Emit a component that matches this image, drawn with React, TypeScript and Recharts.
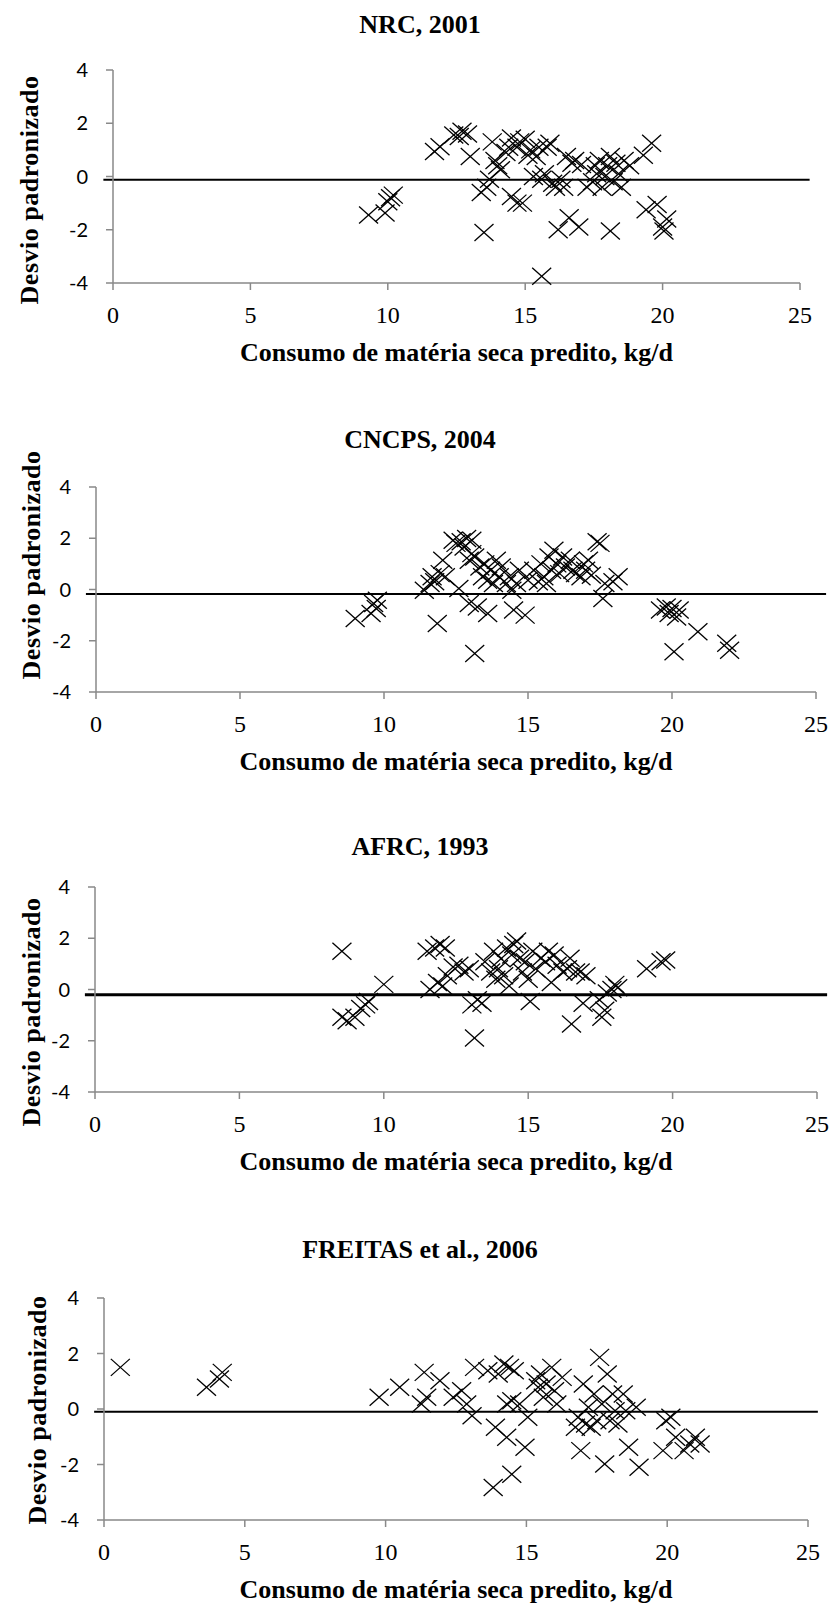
import React from "react";
import { ScatterChart, Scatter, XAxis, YAxis, ReferenceLine } from "recharts";

// Desvio padronizado x consumo de matéria seca predito (kg/d)
const nrcPoints: [number, number][] = [
  [9.3, -1.45], [9.9, -1.37], [10.0, -0.95], [10.1, -0.8], [10.2, -0.7],
  [11.7, 0.94], [11.9, 1.12], [12.4, 1.56], [12.6, 1.5], [12.7, 1.7], [12.9, 1.6],
  [13.0, 0.75], [13.4, -0.6], [13.5, -2.1], [13.6, -0.4], [13.7, -0.1], [13.8, 1.3],
  [13.9, 0.6], [14.0, 0.4], [14.1, 0.25], [14.3, 0.9], [14.4, 1.1], [14.5, -0.75],
  [14.5, 1.45], [14.7, 1.1], [14.7, -1.0], [14.8, 1.3], [14.9, -1.0], [15.0, 1.4],
  [15.1, 0.8], [15.2, 1.0], [15.3, 0.0], [15.4, 0.75], [15.5, 1.1], [15.6, -3.75],
  [15.6, -0.1], [15.7, 0.1], [15.8, 1.1], [15.9, 1.25], [16.0, -0.25], [16.1, -0.4],
  [16.2, -2.0], [16.3, -0.1], [16.4, -0.4], [16.5, 0.75], [16.6, -1.55], [16.7, 0.5],
  [16.8, 0.6], [16.95, -1.9], [17.05, 0.45], [17.25, -0.4], [17.45, -0.2], [17.55, 0.4],
  [17.6, 0.1], [17.7, 0.6], [17.8, -0.4], [17.9, 0.0], [18.0, 0.4], [18.1, -2.05],
  [18.1, 0.75], [18.2, -0.2], [18.3, 0.5], [18.4, 0.1], [18.5, -0.4], [18.6, 0.6],
  [18.8, 0.4], [19.3, 0.8], [19.4, -1.25], [19.6, 1.25], [19.8, -1.05], [20.0, -1.9],
  [20.05, -2.05], [20.15, -1.6],
];

const cncpsPoints: [number, number][] = [
  [9.0, -1.13], [9.55, -0.94], [9.64, -0.55], [9.73, -0.74], [9.77, -0.42],
  [11.4, -0.03], [11.6, 0.23], [11.67, 0.5], [11.76, 0.3], [11.85, -1.33], [11.95, 0.62],
  [12.04, 1.14], [12.13, 0.5], [12.4, 1.92], [12.5, 1.8], [12.6, 0.04], [12.68, 1.86],
  [12.78, 1.66], [12.87, 1.99], [12.96, 1.14], [12.96, -0.55], [13.05, 1.4], [13.05, 1.92],
  [13.15, -2.5], [13.15, 1.27], [13.24, -0.68], [13.33, 0.88], [13.42, 0.5], [13.5, 1.0],
  [13.6, -0.94], [13.6, 0.36], [13.7, 0.75], [13.8, 0.23], [13.9, 1.14], [14.0, 0.5],
  [14.07, 0.88], [14.25, 0.23], [14.35, 0.5], [14.44, -0.03], [14.5, -0.8], [14.6, 0.23],
  [14.7, 0.75], [14.9, -1.0], [15.0, 0.36], [15.2, 0.75], [15.36, 0.3], [15.45, 1.0],
  [15.55, 0.5], [15.64, 0.23], [15.73, 1.27], [15.82, 0.75], [15.9, 1.53], [16.0, 1.0],
  [16.1, 0.62], [16.2, 1.27], [16.3, 0.88], [16.47, 1.14], [16.56, 0.75], [16.65, 0.62],
  [16.84, 0.5], [16.93, 1.0], [17.0, 0.75], [17.1, 1.14], [17.2, 0.56], [17.4, 1.86],
  [17.5, 1.8], [17.6, -0.35], [17.67, 0.23], [17.95, 0.3], [18.13, 0.5],
  [19.6, -0.8], [19.8, -0.68], [19.9, -0.94], [20.0, -0.74], [20.07, -2.43], [20.16, -1.07],
  [20.25, -0.8], [20.9, -1.65], [21.9, -2.1], [22.0, -2.37],
];

const afrcPoints: [number, number][] = [
  [8.55, 1.49], [8.55, -1.08], [8.73, -1.22], [9.0, -1.08], [9.2, -0.74], [9.37, -0.6],
  [9.47, -0.47], [10.0, 0.2], [11.5, 1.49], [11.6, 0.0], [11.76, 1.62], [11.86, 0.27],
  [11.95, 1.76], [12.04, 0.14], [12.13, 1.62], [12.2, 0.54], [12.4, 0.88], [12.6, 0.95],
  [12.78, 0.68], [12.96, 0.81], [13.05, -0.6], [13.14, -1.89], [13.24, -0.4], [13.4, -0.54],
  [13.5, 1.08], [13.7, 0.68], [13.8, 1.49], [13.88, 0.4], [13.97, 0.81], [14.06, 1.2],
  [14.15, 0.54], [14.25, 1.62], [14.34, 0.14], [14.43, 1.35], [14.5, 1.76], [14.6, 1.89],
  [14.7, 1.22], [14.8, 0.68], [14.9, 1.08], [15.0, 0.4], [15.07, -0.47], [15.16, 1.49],
  [15.26, 0.81], [15.44, 1.22], [15.6, 1.08], [15.7, 1.49], [15.8, 0.27], [15.9, 1.35],
  [16.0, 0.95], [16.2, 0.68], [16.36, 0.81], [16.45, 1.22], [16.5, -1.35], [16.64, 0.68],
  [16.8, 0.68], [16.9, -0.54], [17.0, 0.54], [17.46, -0.4], [17.55, -1.08], [17.65, -0.81],
  [17.74, -0.14], [17.9, 0.0], [18.0, 0.2], [18.1, 0.07], [19.1, 0.81], [19.6, 1.08],
  [19.76, 1.15],
];

const freitasPoints: [number, number][] = [
  [0.58, 1.5], [3.64, 0.78], [4.1, 1.08], [4.2, 1.32], [9.77, 0.42], [10.5, 0.78],
  [11.27, 0.18], [11.37, 1.32], [11.46, 0.42], [11.93, 1.02], [12.4, 0.42], [12.7, 0.66],
  [12.88, 0.18], [13.07, -0.24], [13.16, 1.5], [13.63, 1.38], [13.82, -2.83], [13.9, -0.66],
  [14.0, 1.26], [14.2, 1.62], [14.3, 0.18], [14.3, -1.02], [14.4, 1.5], [14.48, -2.35],
  [14.48, 0.3], [14.57, 1.38], [14.76, 0.18], [14.95, -1.38], [15.05, -0.3], [15.33, 1.02],
  [15.42, 0.78], [15.5, 1.26], [15.6, 0.42], [15.7, 0.9], [15.9, 1.5], [16.0, 0.66],
  [16.08, 0.18], [16.27, 1.14], [16.74, -0.66], [16.84, -0.3], [16.93, -1.5], [17.02, 0.9],
  [17.1, -0.54], [17.2, 0.06], [17.3, -0.66], [17.4, 0.54], [17.5, -0.42], [17.6, 1.86],
  [17.68, 0.18], [17.78, -1.98], [17.87, 1.26], [17.97, -0.42], [18.06, 0.54], [18.15, -0.06],
  [18.25, -0.54], [18.44, 0.54], [18.53, -0.06], [18.63, -1.38], [18.9, 0.06], [19.0, -2.1],
  [19.85, -1.5], [19.95, -0.42], [20.13, -0.3], [20.3, -1.02], [20.6, -1.5], [20.8, -1.26],
  [21.0, -1.02], [21.17, -1.26],
];

const panelTitles = ["NRC, 2001", "CNCPS, 2004", "AFRC, 1993", "FREITAS et al., 2006"];
const meanLines = [-0.12, -0.18, -0.2, -0.1];
const xTicks = [0, 5, 10, 15, 20, 25];
const yTicks = [-4, -2, 0, 2, 4];
const xTitle = "Consumo de matéria seca predito, kg/d";
const yTitle = "Desvio padronizado";

const SERIF = "'Times New Roman', 'Liberation Serif', serif";
const SANS = "Lato, 'Open Sans', sans-serif";
const AXIS_GRAY = "#898989";

// pixel frame of each panel, measured on the reference
const frames = [
  { title: 25, top: 70, bottom: 283, left: 113, right: 800, yLabX: 30, yLabY: 190, xLab: 353, lineW: 2 },
  { title: 440, top: 487, bottom: 692, left: 96, right: 816, yLabX: 32, yLabY: 565, xLab: 762, lineW: 2 },
  { title: 847, top: 887, bottom: 1092, left: 95, right: 817, yLabX: 32, yLabY: 1012, xLab: 1162, lineW: 3 },
  { title: 1250, top: 1298, bottom: 1520, left: 104, right: 808, yLabX: 38, yLabY: 1410, xLab: 1590, lineW: 2 },
];

const XMark = (props: any) => {
  const { cx, cy } = props;
  if (cx == null || cy == null) return null;
  const w = 9.5;
  const h = 8.5;
  return (
    <g stroke="#000" strokeWidth={1.3} fill="none">
      <line x1={cx - w} y1={cy - h} x2={cx + w} y2={cy + h} />
      <line x1={cx - w} y1={cy + h} x2={cx + w} y2={cy - h} />
    </g>
  );
};

const Panel = ({ index, points }: { index: number; points: [number, number][] }) => {
  const f = frames[index];
  const padTop = 15;
  const axisH = 50;
  const yAxisW = 60;
  const height = padTop + (f.bottom - f.top) + axisH;
  const data = points.map(([x, y]) => ({ x, y }));
  const mean = meanLines[index];

  return (
    <>
      <div
        style={{
          position: "absolute", left: 420, top: f.title, transform: "translate(-50%, -50%)",
          fontFamily: SERIF, fontWeight: "bold", fontSize: 26, lineHeight: 1, whiteSpace: "nowrap",
        }}
      >
        {panelTitles[index]}
      </div>
      <div style={{ position: "absolute", left: 0, top: f.top - padTop }}>
        <ScatterChart
          width={830}
          height={height}
          margin={{ top: padTop, right: 830 - f.right, bottom: 0, left: f.left - yAxisW }}
        >
          <XAxis
            type="number" dataKey="x" domain={[0, 25]} ticks={xTicks} interval={0}
            height={axisH} tickSize={7} tickMargin={16}
            axisLine={{ stroke: AXIS_GRAY, strokeWidth: 1.5 }}
            tickLine={{ stroke: AXIS_GRAY, strokeWidth: 1.5 }}
            tick={{ fontFamily: SERIF, fontSize: 24, fill: "#000" }}
          />
          <YAxis
            type="number" dataKey="y" domain={[-4, 4]} ticks={yTicks} interval={0}
            width={yAxisW} tickSize={7} tickMargin={18}
            axisLine={{ stroke: AXIS_GRAY, strokeWidth: 1.5 }}
            tickLine={{ stroke: AXIS_GRAY, strokeWidth: 1.5 }}
            tick={{ fontFamily: SANS, fontSize: 20, fill: "#000" }}
          />
          <ReferenceLine
            segment={[{ x: -0.35, y: mean }, { x: 25.35, y: mean }]}
            stroke="#000" strokeWidth={f.lineW} ifOverflow="visible"
          />
          <Scatter data={data} shape={<XMark />} isAnimationActive={false} />
        </ScatterChart>
      </div>
      <div
        style={{
          position: "absolute", left: (f.left + f.right) / 2, top: f.xLab, transform: "translate(-50%, -50%)",
          fontFamily: SERIF, fontWeight: "bold", fontSize: 26, lineHeight: 1, whiteSpace: "nowrap",
        }}
      >
        {xTitle}
      </div>
      <div
        style={{
          position: "absolute", left: f.yLabX, top: f.yLabY,
          transform: "translate(-50%, -50%) rotate(-90deg)",
          fontFamily: SERIF, fontWeight: "bold", fontSize: 26, lineHeight: 1, whiteSpace: "nowrap",
          letterSpacing: 0.5,
        }}
      >
        {yTitle}
      </div>
    </>
  );
};

export default function App() {
  const sets = [nrcPoints, cncpsPoints, afrcPoints, freitasPoints];
  return (
    <div style={{ position: "absolute", left: 0, top: 0, width: 830, height: 1605, background: "#fff", overflow: "hidden" }}>
      {sets.map((pts, i) => (
        <Panel key={i} index={i} points={pts} />
      ))}
    </div>
  );
}
